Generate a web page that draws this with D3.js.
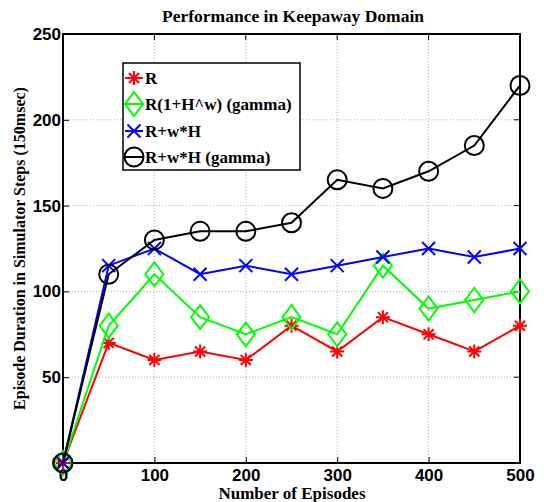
<!DOCTYPE html>
<html>
<head>
<meta charset="utf-8">
<script src="https://cdn.jsdelivr.net/npm/d3@7"></script>
<style>
  body { margin: 0; background: #fff; }
  svg { display: block; }
</style>
</head>
<body>
<div id="app"></div>
<script>
// data
const episodes = [0, 50, 100, 150, 200, 250, 300, 350, 400, 450, 500]
const seriesR = [0, 70, 60, 65, 60, 80, 65, 85, 75, 65, 80]
const seriesRHw = [0, 80, 110, 85, 75, 85, 75, 115, 90, 95, 100]
const seriesRwH = [0, 115, 125, 110, 115, 110, 115, 120, 125, 120, 125]
const seriesRwHg = [0, 110, 130, 135, 135, 140, 165, 160, 170, 185, 220]
const xTicks = [0, 100, 200, 300, 400, 500]
const yTicks = [0, 50, 100, 150, 200, 250]
const legendLabels = ['R', 'R(1+H^w) (gamma)', 'R+w*H', 'R+w*H (gamma)']

const series = [
  {name: legendLabels[0], values: seriesR, color: '#ff0000', marker: 'star'},
  {name: legendLabels[1], values: seriesRHw, color: '#00ff00', marker: 'diamond'},
  {name: legendLabels[2], values: seriesRwH, color: '#0000ff', marker: 'cross'},
  {name: legendLabels[3], values: seriesRwHg, color: '#000000', marker: 'circle'}
]

const W = 544, H = 502
const pLeft = 63, pRight = 520, pTop = 34, pBottom = 463

const svg = d3.select('#app').append('svg')
  .attr('width', W)
  .attr('height', H)

const xScale = d3.scaleLinear().domain([0, 500]).range([pLeft, pRight])
const yScale = d3.scaleLinear().domain([0, 250]).range([pBottom, pTop])

// grid
svg.append('g').selectAll('line')
  .data(xTicks.slice(1, -1))
  .enter().append('line')
  .attr('x1', d => xScale(d)).attr('x2', d => xScale(d))
  .attr('y1', pTop).attr('y2', pBottom)
  .attr('stroke', '#b0b0b0').attr('stroke-width', 1).attr('stroke-dasharray', '1,2')
svg.append('g').selectAll('line')
  .data(yTicks.slice(1, -1))
  .enter().append('line')
  .attr('y1', d => yScale(d)).attr('y2', d => yScale(d))
  .attr('x1', pLeft).attr('x2', pRight)
  .attr('stroke', '#b0b0b0').attr('stroke-width', 1).attr('stroke-dasharray', '1,2')

// axes
const tickFont = 'Liberation Sans, Arial, sans-serif'
const xAxis = d3.axisBottom(xScale).tickValues(xTicks).tickSize(-6).tickPadding(7.5)
const yAxis = d3.axisLeft(yScale).tickValues(yTicks).tickSize(-6).tickPadding(2)

const gx = svg.append('g').attr('transform', 'translate(0,' + pBottom + ')').call(xAxis)
const gy = svg.append('g').attr('transform', 'translate(' + pLeft + ',0)').call(yAxis)
;[gx, gy].forEach(g => {
  g.select('.domain').remove()
  g.selectAll('line').attr('stroke', '#000').attr('stroke-width', 1)
  g.selectAll('text').attr('fill', '#000')
    .style('font-family', tickFont).style('font-weight', 'bold').style('font-size', '17px')
})
gx.selectAll('text').attr('dy', '0.6em')

// top/right ticks
svg.append('g').selectAll('line')
  .data(xTicks).enter().append('line')
  .attr('x1', d => xScale(d)).attr('x2', d => xScale(d))
  .attr('y1', pTop).attr('y2', pTop + 6).attr('stroke', '#000')
svg.append('g').selectAll('line')
  .data(yTicks).enter().append('line')
  .attr('y1', d => yScale(d)).attr('y2', d => yScale(d))
  .attr('x1', pRight).attr('x2', pRight - 6).attr('stroke', '#000')

// box
svg.append('rect')
  .attr('x', pLeft).attr('y', pTop)
  .attr('width', pRight - pLeft).attr('height', pBottom - pTop)
  .attr('fill', 'none').attr('stroke', '#000').attr('stroke-width', 2)

// markers
function drawMarker(g, type, x, y, color) {
  const sw = 2
  if (type === 'circle') {
    g.append('circle').attr('cx', x).attr('cy', y).attr('r', 9.5)
      .attr('fill', 'none').attr('stroke', color).attr('stroke-width', sw)
  } else if (type === 'diamond') {
    g.append('path')
      .attr('d', 'M' + x + ',' + (y - 12) + 'L' + (x + 9) + ',' + y + 'L' + x + ',' + (y + 12) + 'L' + (x - 9) + ',' + y + 'Z')
      .attr('fill', 'none').attr('stroke', color).attr('stroke-width', sw)
  } else if (type === 'cross') {
    const r = 6.5
    g.append('path')
      .attr('d', 'M' + (x - r) + ',' + (y - r) + 'L' + (x + r) + ',' + (y + r) + 'M' + (x - r) + ',' + (y + r) + 'L' + (x + r) + ',' + (y - r))
      .attr('stroke', color).attr('stroke-width', sw)
  } else if (type === 'star') {
    const r = 7, d = r * 0.72
    g.append('path')
      .attr('d', 'M' + x + ',' + (y - r) + 'L' + x + ',' + (y + r) +
        'M' + (x - r) + ',' + y + 'L' + (x + r) + ',' + y +
        'M' + (x - d) + ',' + (y - d) + 'L' + (x + d) + ',' + (y + d) +
        'M' + (x - d) + ',' + (y + d) + 'L' + (x + d) + ',' + (y - d))
      .attr('stroke', color).attr('stroke-width', sw)
  }
}

const line = d3.line()
  .x((d, i) => xScale(episodes[i]))
  .y(d => yScale(d))

series.forEach(s => {
  const g = svg.append('g')
  g.append('path')
    .attr('d', line(s.values))
    .attr('fill', 'none').attr('stroke', s.color).attr('stroke-width', 2)
  s.values.forEach((v, i) => drawMarker(g, s.marker, xScale(episodes[i]), yScale(v), s.color))
})

// legend
const serif = 'Liberation Serif, Times New Roman, serif'
const legend = svg.append('g')
legend.append('rect')
  .attr('x', 123).attr('y', 63).attr('width', 177).attr('height', 107)
  .attr('fill', '#fff').attr('stroke', '#000').attr('stroke-width', 1.5)
const rowY = [78, 104, 131, 157]
series.forEach((s, i) => {
  legend.append('line')
    .attr('x1', 125).attr('x2', 143).attr('y1', rowY[i]).attr('y2', rowY[i])
    .attr('stroke', s.color).attr('stroke-width', 2)
  drawMarker(legend, s.marker, 134, rowY[i], s.color)
  legend.append('text')
    .attr('x', 145).attr('y', rowY[i]).attr('dy', '0.36em')
    .style('font-family', serif).style('font-weight', 'bold').style('font-size', '17px')
    .text(s.name)
})

// title and labels
svg.append('text')
  .attr('x', 293).attr('y', 22)
  .attr('text-anchor', 'middle')
  .style('font-family', serif).style('font-weight', 'bold').style('font-size', '17.5px')
  .text('Performance in Keepaway Domain')
svg.append('text')
  .attr('x', 292).attr('y', 499)
  .attr('text-anchor', 'middle')
  .style('font-family', serif).style('font-weight', 'bold').style('font-size', '17px')
  .text('Number of Episodes')
svg.append('text')
  .attr('transform', 'translate(25,' + ((pTop + pBottom) / 2) + ') rotate(-90)')
  .attr('text-anchor', 'middle')
  .style('font-family', serif).style('font-weight', 'bold').style('font-size', '16px')
  .text('Episode Duration in Simulator Steps (150msec)')
</script>
</body>
</html>
